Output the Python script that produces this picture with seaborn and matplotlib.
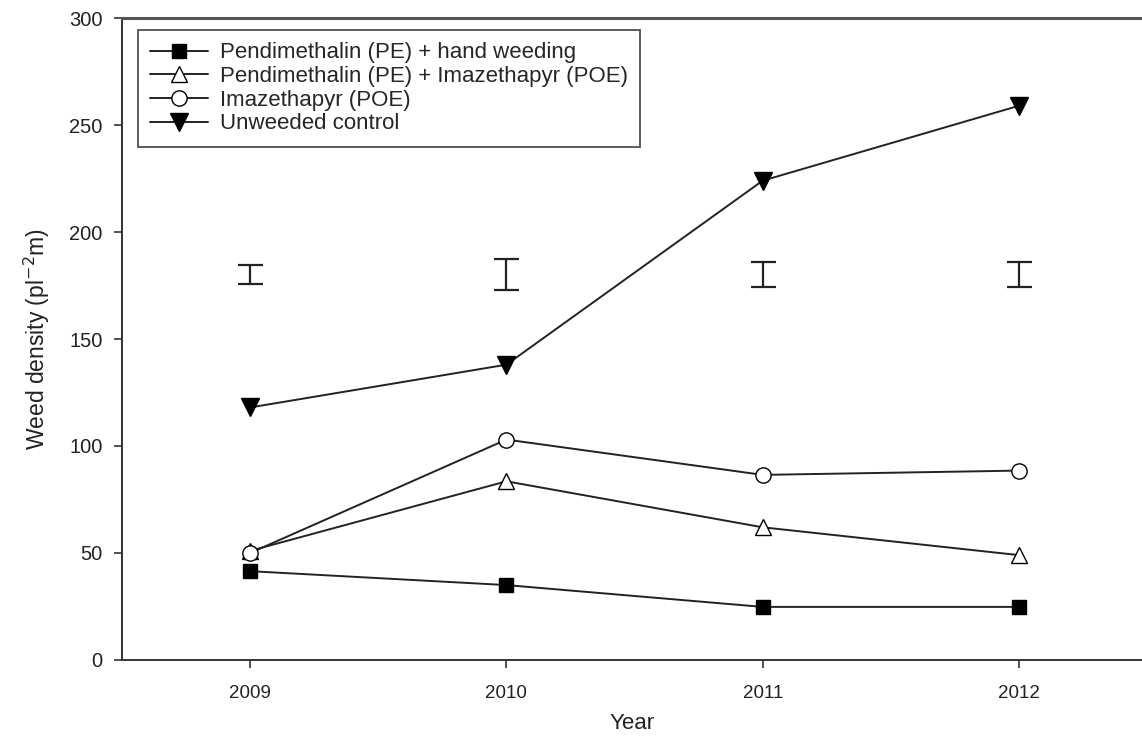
import matplotlib
matplotlib.use("Agg")
import matplotlib.pyplot as plt
import seaborn as sns
import pandas as pd

years = [2009, 2010, 2011, 2012]
hand_weeding = [41.5, 35, 24.8, 24.8]
pend_imaz = [51, 83.5, 62, 49]
imazethapyr = [50, 103, 86.5, 88.5]
unweeded = [118, 138, 224, 259]
series_names = [
    "Pendimethalin (PE) + hand weeding",
    "Pendimethalin (PE) + Imazethapyr (POE)",
    "Imazethapyr (POE)",
    "Unweeded control",
]
lsd_center = [180, 180, 180, 180]
lsd_half = [4.4, 7.2, 5.8, 5.8]

sns.set_style("ticks")
plt.rcParams["font.family"] = ["Liberation Sans", "DejaVu Sans"]

fig = plt.figure(figsize=(11.42, 7.36), dpi=100)
ax = fig.add_axes([0.1068, 0.1033, 0.8932, 0.8722])

rows = []
for name, vals in zip(series_names, [hand_weeding, pend_imaz, imazethapyr, unweeded]):
    for y, v in zip(years, vals):
        rows.append({"Year": y, "Density": v, "Treatment": name})
df = pd.DataFrame(rows)

styles = {
    series_names[0]: dict(marker="s", mfc="black", ms=10),
    series_names[1]: dict(marker="^", mfc="white", ms=12),
    series_names[2]: dict(marker="o", mfc="white", ms=11),
    series_names[3]: dict(marker="v", mfc="black", ms=13),
}
for name in series_names:
    st = styles[name]
    sns.lineplot(data=df[df["Treatment"] == name], x="Year", y="Density", ax=ax,
                 color="#222222", linewidth=1.4, marker=st["marker"],
                 markersize=st["ms"], markerfacecolor=st["mfc"],
                 markeredgecolor="black", markeredgewidth=1.0, label=name)

ax.errorbar(years, lsd_center, yerr=lsd_half, fmt="none", ecolor="#222222",
            elinewidth=1.6, capsize=9, capthick=1.6)

ax.set_xlim(2008.5, 2012.48)
ax.set_ylim(0, 300)
ax.set_xticks(years)
ax.set_xticklabels([str(y) for y in years])
ax.set_yticks([0, 50, 100, 150, 200, 250, 300])

for s in ["left", "bottom"]:
    ax.spines[s].set_color("#333333")
    ax.spines[s].set_linewidth(1.4)
ax.spines["top"].set_color("#555555")
ax.spines["top"].set_linewidth(2.2)
ax.spines["right"].set_visible(False)
ax.tick_params(axis="both", direction="out", length=6, width=1.2, colors="#333333",
               labelcolor="#222222")
ax.tick_params(axis="y", labelsize=14.5, pad=8)
ax.tick_params(axis="x", labelsize=13.5, pad=12)

ax.set_xlabel("Year", fontsize=16, color="#222222", labelpad=8)
ax.set_ylabel("Weed density (pl$^{-2}$m)", fontsize=16.5, color="#222222", labelpad=12)

leg = ax.legend(loc="upper left", bbox_to_anchor=(0.0157, 0.981), fontsize=16,
                frameon=True, fancybox=False, edgecolor="#333333", handlelength=2.6,
                borderpad=0.55, labelspacing=0.12, handletextpad=0.55,
                borderaxespad=0.0)
leg.get_frame().set_linewidth(1.4)

fig.savefig("out.png", dpi=100, facecolor="white")
